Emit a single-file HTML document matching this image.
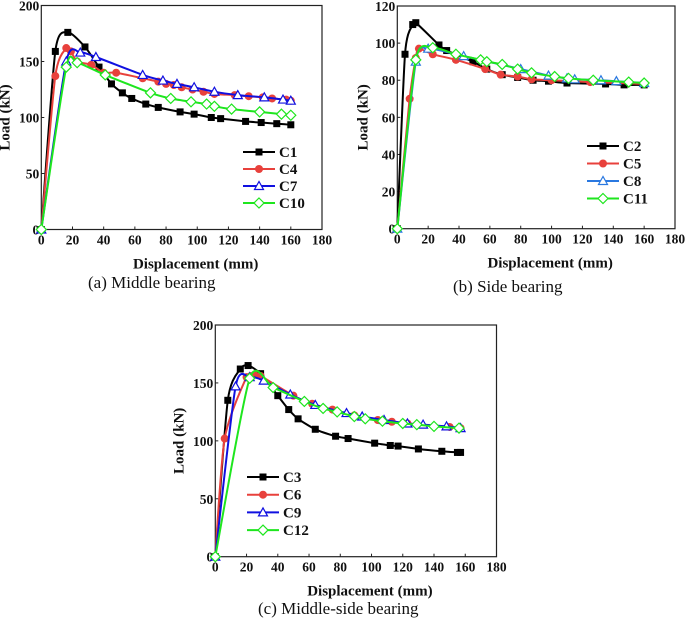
<!DOCTYPE html>
<html><head><meta charset="utf-8"><style>
html,body{margin:0;padding:0;background:#fff;width:685px;height:624px;overflow:hidden}
svg{display:block}
.tk{font-family:"Liberation Serif",serif;font-weight:bold;font-size:13.5px;fill:#111}
.ttl{font-family:"Liberation Serif",serif;font-weight:bold;font-size:15px;fill:#111}
.cap{font-family:"Liberation Serif",serif;font-size:17px;fill:#111}
.lg{font-family:"Liberation Serif",serif;font-weight:bold;font-size:15px;fill:#111}
</style></head><body>
<svg id="fig" width="685" height="624" viewBox="0 0 685 624" xmlns="http://www.w3.org/2000/svg"></svg>
<script>
// ---- data ----
const xTicks = [0,20,40,60,80,100,120,140,160,180];
const yTicksA = [0,50,100,150,200];
const yTicksB = [0,20,40,60,80,100,120];
const yTicksC = [0,50,100,150,200];
const namesA = ["C1","C4","C7","C10"];
const namesB = ["C2","C5","C8","C11"];
const namesC = ["C3","C6","C9","C12"];
const C1x=[0,9,17,28,37,45,52,58,67,75,89,98,109,115,131,141,151,160];
const C1y=[0,159,176,163,145,130,122,117,112,109,105,103,100,99,96.5,95.5,94.5,93.5];
const C4x=[0,9,16,19,23,32,40,48,65,75,80,85,90,97,104,111,124,133,142,148,157,160];
const C4y=[0,137,162,159,150,147,140,140,135,132,130,129,127,125,123,121,120,119,118,117,116,115];
const C7x=[0,16,25,35,65,78,87,98,111,126,143,155,160];
const C7y=[0,150,158,154,138,133,130,127,123,120,118,116,115];
const C10x=[0,16,23,41,70,83,96,106,111,122,140,154,160];
const C10y=[0,145,149,138,122,117,114,112,110,107.5,105,103,102];
const C2x=[0,5,10,12,27,32,49,58,68,78,88,98,110,135,147,160];
const C2y=[0,94,110,111,99,96,90,86,83,81.5,80,79.5,78.5,78,77.5,77.5];
const C5x=[0,8,12,14,23,38,57,67,78,87,100,125,160];
const C5y=[0,70,92,97,94,91,86,83,82,80.5,80,79,78];
const C8x=[0,12,20,43,80,98,110,115,132,142,160];
const C8y=[0,90,97,93,86,82.5,81,80.5,80,79.5,78.5];
const C11x=[0,12,23,38,54,58,68,78,87,102,111,127,150,160];
const C11y=[0,91,97.5,94,91,90,88.5,86,84,82,81,80,79,78.5];
const C3x=[0,8,16,21,29,40,47,53,64,77,85,102,112,117,130,145,155,157];
const C3y=[0,135,162,165,158,139,127,119,110,104,102,98,96,95.5,93,91,90,90];
const C6x=[0,6,20,25,29,50,62,75,89,104,113,123,150,157];
const C6y=[0,102,155,157,156,139,132,127,122,118,116.5,115,112,111];
const C9x=[0,13,22,31,48,64,84,94,108,123,133,148,157];
const C9y=[0,147,155,152,140,131,124,121,118,115,114,112.5,111];
const C12x=[0,22,37,57,69,78,89,96,107,120,129,140,156];
const C12y=[0,154,146,134,128,125,121,119,117,115,114,112.5,111];

const NS="http://www.w3.org/2000/svg";
const svg=document.getElementById('fig');
function el(tag,attrs,parent){const e=document.createElementNS(NS,tag);for(const k in attrs)e.setAttribute(k,attrs[k]);(parent||svg).appendChild(e);return e;}
const styles=[{c:"#000",m:"sq"},{c:"#e8413c",m:"ci"},{c:"#1010e0",m:"tri"},{c:"#1ee61e",m:"dia"}];
const stylesB=[{c:"#000",m:"sq"},{c:"#e8413c",m:"ci"},{c:"#2a78e0",m:"tri"},{c:"#1ee61e",m:"dia"}];

function smooth(pts){let d="M"+pts[0][0]+","+pts[0][1];
 for(let i=0;i<pts.length-1;i++){const p0=pts[Math.max(0,i-1)],p1=pts[i],p2=pts[i+1],p3=pts[Math.min(pts.length-1,i+2)];
 const t=0.12;const c1=[p1[0]+(p2[0]-p0[0])*t,p1[1]+(p2[1]-p0[1])*t],c2=[p2[0]-(p3[0]-p1[0])*t,p2[1]-(p3[1]-p1[1])*t];
 d+=" C"+c1[0].toFixed(1)+","+c1[1].toFixed(1)+" "+c2[0].toFixed(1)+","+c2[1].toFixed(1)+" "+p2[0].toFixed(1)+","+p2[1].toFixed(1);}
 return d;}
function marker(g,type,x,y,c,name){let e;
 if(type==="sq")e=el('rect',{x:x-3.5,y:y-3.5,width:7,height:7,fill:c},g);
 else if(type==="ci")e=el('circle',{cx:x,cy:y,r:4,fill:c},g);
 else if(type==="tri")e=el('polygon',{points:`${x},${y-4.5} ${x-4.5},${y+3.5} ${x+4.5},${y+3.5}`,fill:"#fff",stroke:c,'stroke-width':1.2},g);
 else e=el('polygon',{points:`${x},${y-5} ${x+5},${y} ${x},${y+5} ${x-5},${y}`,fill:"#fff",stroke:c,'stroke-width':1.2},g);
 
 }

function panel(o){
 const g=el('g',{});
 
 
 const X=v=>o.x0+(v/180)*(o.x1-o.x0), Y=v=>o.y0-(v/o.ymax)*(o.y0-o.y1);
 const box=el('rect',{x:o.x0,y:o.y1,width:o.x1-o.x0,height:o.y0-o.y1,fill:"none",stroke:"#222",'stroke-width':1.2},g);
 
 
 xTicks.forEach(t=>{const x=X(t);el('line',{x1:x,x2:x,y1:o.y0,y2:o.y0-3,stroke:"#222"},g);
  const tx=el('text',{x:x,y:o.y0+15,'text-anchor':'middle',class:'tk'},g);tx.textContent=t;
  
  });
 o.yt.forEach(t=>{const y=Y(t);el('line',{x1:o.x0,x2:o.x0+3,y1:y,y2:y,stroke:"#222"},g);
  const tx=el('text',{x:o.x0-2,y:y+5,'text-anchor':'end',class:'tk'},g);tx.textContent=t;
  
  });
 const xt=el('text',{x:(o.x0+o.x1)/2+o.xtOff,y:o.y0+39,'text-anchor':'middle',class:'ttl'},g);xt.textContent="Displacement (mm)";
 
 
 const yt=el('text',{x:0,y:0,'text-anchor':'middle',class:'ttl',transform:`translate(${o.x0-o.ytOff},${(o.y0+o.y1)/2}) rotate(-90)`},g);yt.textContent="Load (kN)";
 
 
 const cp=el('text',{x:o.capX,y:o.capY,class:'cap'},g);cp.textContent=o.cap;
 
 
 o.series.forEach((s,i)=>{const st=o.st[i];
  const pts=s.x.map((v,j)=>[X(v),Y(s.y[j])]);
  const p=el('path',{d:smooth(pts),fill:"none",stroke:st.c,'stroke-width':2},g);
  
  
  pts.forEach(pt=>marker(g,st.m,pt[0],pt[1],st.c,'point-'+s.n.toLowerCase()));
  const ly=o.lgY+i*o.lgDy;
  const ll=el('line',{x1:o.lgX,x2:o.lgX+32,y1:ly,y2:ly,stroke:st.c,'stroke-width':2},g);
  
  
  marker(g,st.m,o.lgX+16,ly,st.c,'legend-marker');
  const lt=el('text',{x:o.lgX+36,y:ly+5,class:'lg'},g);lt.textContent=s.n;
  
  
 });
}
panel({id:'panel-a',x0:41.3,x1:322,y0:229.5,y1:5.5,ymax:200,yt:yTicksA,st:styles,xtOff:14,ytOff:32,
 cap:"(a) Middle bearing",capX:88,capY:288,lgX:243,lgY:152,lgDy:17,
 series:[{n:namesA[0],x:C1x,y:C1y},{n:namesA[1],x:C4x,y:C4y},{n:namesA[2],x:C7x,y:C7y},{n:namesA[3],x:C10x,y:C10y}]});
panel({id:'panel-b',x0:397.3,x1:675,y0:228.7,y1:6,ymax:120,yt:yTicksB,st:stylesB,xtOff:14,ytOff:30,
 cap:"(b) Side bearing",capX:453,capY:292,lgX:587,lgY:146,lgDy:17.5,
 series:[{n:namesB[0],x:C2x,y:C2y},{n:namesB[1],x:C5x,y:C5y},{n:namesB[2],x:C8x,y:C8y},{n:namesB[3],x:C11x,y:C11y}]});
panel({id:'panel-c',x0:215.3,x1:496.5,y0:556.7,y1:325,ymax:200,yt:yTicksC,st:styles,xtOff:14,ytOff:32,
 cap:"(c) Middle-side bearing",capX:258,capY:614,lgX:247,lgY:477,lgDy:17.7,
 series:[{n:namesC[0],x:C3x,y:C3y},{n:namesC[1],x:C6x,y:C6y},{n:namesC[2],x:C9x,y:C9y},{n:namesC[3],x:C12x,y:C12y}]});
</script>
</body></html>
